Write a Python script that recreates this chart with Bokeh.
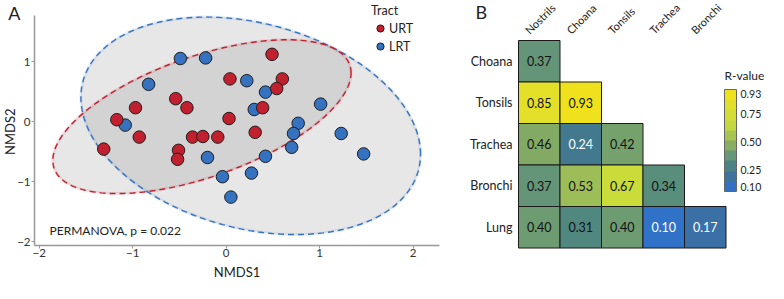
import numpy as np
from bokeh.plotting import figure
from bokeh.models import (ColumnDataSource, Label, LabelSet, Legend, LegendItem,
                          LinearColorMapper, ColorBar, FixedTicker, Range1d,
                          PrintfTickFormatter)
from bokeh.layouts import row
from bokeh.embed import file_html
from bokeh.resources import INLINE
from bokeh.core.properties import value

FONT = "Lato"

# ---------------- data: panel A (NMDS ordination) ----------------
urt_x = [0.49, 0.04, 0.60, 0.54, -0.54, -0.42, -0.97, 0.39, 0.03, -1.17,
         -0.93, -0.36, -0.25, -0.09, 0.31, -1.31, -0.51, -0.52]
urt_y = [1.12, 0.71, 0.71, 0.55, 0.38, 0.23, 0.23, 0.23, 0.05, 0.03,
         -0.26, -0.26, -0.25, -0.26, -0.18, -0.46, -0.48, -0.63]
lrt_x = [-0.49, -0.22, 0.22, -0.83, 0.42, 0.30, -1.08, 1.01, 0.77, 0.72,
         1.23, 0.70, 1.47, -0.20, 0.42, -0.04, 0.27, 0.05]
lrt_y = [1.05, 1.06, 0.68, 0.62, 0.49, 0.20, -0.06, 0.29, -0.03, -0.20,
         -0.20, -0.43, -0.54, -0.60, -0.58, -0.92, -0.86, -1.26]
group_names = ["URT", "LRT"]
x_ticks = [-2, -1, 0, 1, 2]
y_ticks = [-2, -1, 0, 1]
permanova_p = 0.022

# ---------------- data: panel B (R-value matrix) ----------------
col_sites = ["Nostrils", "Choana", "Tonsils", "Trachea", "Bronchi"]
row_sites = ["Choana", "Tonsils", "Trachea", "Bronchi", "Lung"]
r_values = [
    [0.37],
    [0.85, 0.93],
    [0.46, 0.24, 0.42],
    [0.37, 0.53, 0.67, 0.34],
    [0.40, 0.31, 0.40, 0.10, 0.17],
]
cbar_ticks = [0.10, 0.25, 0.50, 0.75, 0.93]

RED = "#c1202f"
BLUE = "#3572c0"
TXT = "#222222"


def conf_ellipse(x, y, level=0.95, n=240):
    x = np.asarray(x, float)
    y = np.asarray(y, float)
    dfd = len(x) - 1
    fq = dfd / 2.0 * ((1 - level) ** (-2.0 / dfd) - 1)  # F(level; 2, dfd)
    r = np.sqrt(2 * fq)
    L = np.linalg.cholesky(np.cov(x, y))
    t = np.linspace(0, 2 * np.pi, n)
    pts = L @ np.vstack([np.cos(t), np.sin(t)]) * r
    return x.mean() + pts[0], y.mean() + pts[1]


# ================= Panel A =================
WA, H = 440, 283
X0, X1 = -2.05, 2.28     # axis extents
Y0, Y1 = -2.06, 1.77
pA = figure(width=WA, height=H, x_range=Range1d(-2.414, 2.292),
            y_range=Range1d(-2.70, 2.017), output_backend="svg",
            toolbar_location=None, min_border_left=0, min_border_right=0,
            min_border_top=0, min_border_bottom=0)
pA.grid.visible = False
pA.outline_line_color = None

for gx, gy in [(lrt_x, lrt_y), (urt_x, urt_y)]:
    ex, ey = conf_ellipse(gx, gy)
    pA.patch(ex, ey, fill_color="#7f7f7f", fill_alpha=0.19, line_color=None)
for gx, gy, col in [(lrt_x, lrt_y, BLUE), (urt_x, urt_y, RED)]:
    ex, ey = conf_ellipse(gx, gy)
    pA.line(ex, ey, line_color=col, line_width=3, line_alpha=0.12)
    pA.line(ex, ey, line_color=col, line_width=1.4, line_dash="6 4")

r_blue = pA.scatter(lrt_x, lrt_y, size=12.5, fill_color=BLUE, line_color="#1e1e1e", line_width=1)
r_red = pA.scatter(urt_x, urt_y, size=12.5, fill_color=RED, line_color="#1e1e1e", line_width=1)

for ax in (pA.xaxis[0], pA.yaxis[0]):
    ax.axis_line_color = "#999999"
    ax.axis_line_width = 1.5
    ax.major_tick_line_color = "#999999"
    ax.major_tick_out = 3
    ax.major_tick_in = 0
    ax.minor_tick_line_color = None
    ax.major_label_standoff = 1
    ax.major_label_text_font = FONT
    ax.major_label_text_font_size = "11.5px"
    ax.major_label_text_color = "#333333"
pA.xaxis[0].ticker = FixedTicker(ticks=x_ticks)
pA.yaxis[0].ticker = FixedTicker(ticks=y_ticks)
pA.xaxis[0].fixed_location = Y0
pA.yaxis[0].fixed_location = X0
pA.xaxis[0].bounds = (X0, X1)
pA.yaxis[0].bounds = (Y0, Y1)
pA.xaxis[0].axis_label = "NMDS1"
pA.xaxis[0].axis_label_standoff = 3
pA.xaxis[0].axis_label_text_font = FONT
pA.xaxis[0].axis_label_text_font_size = "13px"
pA.xaxis[0].axis_label_text_font_style = "normal"
pA.xaxis[0].axis_label_text_color = TXT

pA.add_layout(Label(x=-2.31, y=-0.17, text="NMDS2", angle=np.pi / 2,
                    text_align="center", text_baseline="middle", text_font=FONT,
                    text_font_size="13px", text_color=TXT))
pA.add_layout(Label(x=-1.89, y=-1.815, text=f"PERMANOVA, p = {permanova_p}",
                    text_align="left", text_baseline="middle", text_font=FONT,
                    text_font_size="12px", text_color=TXT))
pA.add_layout(Label(x=-2.33, y=1.99, text="A", text_align="left", text_baseline="top",
                    text_font=FONT, text_font_size="18px", text_color=TXT))

legend = Legend(items=[LegendItem(label=group_names[0], renderers=[r_red]),
                       LegendItem(label=group_names[1], renderers=[r_blue])],
                title="Tract", location=(371, 228), orientation="vertical")
legend.title_text_font = FONT
legend.title_text_font_size = "12.5px"
legend.title_text_font_style = "normal"
legend.title_text_color = TXT
legend.title_standoff = 1
legend.label_text_font = FONT
legend.label_text_font_size = "12.5px"
legend.label_text_color = TXT
legend.label_standoff = 0
legend.glyph_width = 18
legend.glyph_height = 18
legend.spacing = -2
legend.padding = 0
legend.margin = 0
legend.border_line_color = None
legend.background_fill_alpha = 0
pA.add_layout(legend)

# ================= Panel B =================
def hex2rgb(h):
    return np.array([int(h[i:i + 2], 16) for i in (1, 3, 5)], float)


stops = [(0.06, "#2a6bd6"), (0.10, "#3072c8"), (0.17, "#3b70a6"), (0.24, "#43798e"),
         (0.31, "#50877f"), (0.38, "#679777"), (0.46, "#82aa64"), (0.53, "#9dbd58"),
         (0.67, "#c9dc3a"), (0.85, "#e4df28"), (0.97, "#f5e214")]
sv = np.array([s[0] for s in stops])
sc = np.array([hex2rgb(s[1]) for s in stops])


def grad(v):
    rgb = [np.interp(v, sv, sc[:, k]) for k in range(3)]
    return "#%02x%02x%02x" % tuple(int(round(c)) for c in rgb)


LOW, HIGH = 0.06, 0.97
pal_fine = [grad(v) for v in np.linspace(LOW, HIGH, 256)]
nsteps = 10
pal_steps = [grad(LOW + (k + 0.5) * (HIGH - LOW) / nsteps) for k in range(nsteps)]
mapper = LinearColorMapper(palette=pal_fine, low=LOW, high=HIGH)
step_mapper = LinearColorMapper(palette=pal_steps, low=LOW, high=HIGH)

cx, cy, cv, ct, tc = [], [], [], [], []
nrow = len(row_sites)
for i, vals in enumerate(r_values):
    for j, v in enumerate(vals):
        cx.append(j + 0.5)
        cy.append(nrow - 1 - i + 0.5)
        cv.append(v)
        ct.append(f"{v:.2f}")
        tc.append("white" if v < 0.25 else "#111111")
cells = ColumnDataSource(dict(x=cx, y=cy, v=cv, t=ct, tc=tc))

WB = 328
pB = figure(width=WB, height=H, x_range=Range1d(-1.880, 6.024), y_range=Range1d(-0.855, 5.964),
            output_backend="svg", toolbar_location=None, min_border_left=0,
            min_border_right=0, min_border_top=0, min_border_bottom=0)
pB.grid.visible = False
pB.outline_line_color = None
pB.xaxis.visible = False

pB.rect(x="x", y="y", width=1, height=1, source=cells,
        fill_color={"field": "v", "transform": mapper}, line_color="#1a1a1a", line_width=1)
pB.text(x="x", y="y", text="t", source=cells, text_align="center", text_baseline="middle",
        text_font=value(FONT), text_font_size="12.5px", text_color="tc")

yb = pB.yaxis[0]
yb.fixed_location = 0
yb.ticker = FixedTicker(ticks=[nrow - 1 - i + 0.5 for i in range(nrow)])
yb.major_label_overrides = {nrow - 1 - i + 0.5: s for i, s in enumerate(row_sites)}
yb.axis_line_color = None
yb.major_tick_line_color = None
yb.minor_tick_line_color = None
yb.major_tick_out = 0
yb.major_tick_in = 0
yb.major_label_standoff = 6
yb.major_label_text_font = FONT
yb.major_label_text_font_size = "12.5px"
yb.major_label_text_color = TXT

col_src = ColumnDataSource(dict(x=[j + 0.5 - 0.19 for j in range(len(col_sites))],
                                y=[5.096] * len(col_sites), t=col_sites))
pB.add_layout(LabelSet(x="x", y="y", text="t", source=col_src, angle=np.pi / 4,
                       text_align="left", text_baseline="bottom", text_font=value(FONT),
                       text_font_size=value("11px"), text_color=value(TXT)))
pB.add_layout(Label(x=-1.036, y=5.94, text="B", text_align="left", text_baseline="top",
                    text_font=FONT, text_font_size="18px", text_color=TXT))
pB.add_layout(Label(x=4.964, y=4.166, text="R-value", text_align="left", text_baseline="middle",
                    text_font=FONT, text_font_size="12px", text_color=TXT))

cb = ColorBar(color_mapper=step_mapper, ticker=FixedTicker(ticks=cbar_ticks),
              formatter=PrintfTickFormatter(format="%.2f"), width=12, height=102,
              location=(284, 92), title=None,
              major_label_text_font=FONT, major_label_text_font_size="10.5px",
              major_label_text_color=TXT, major_tick_line_color=None,
              bar_line_color="#666666", padding=0, label_standoff=4,
              background_fill_alpha=0, border_line_color=None)
pB.add_layout(cb)

layout = row(pA, pB)
open("out.html", "w").write(file_html(layout, INLINE))
